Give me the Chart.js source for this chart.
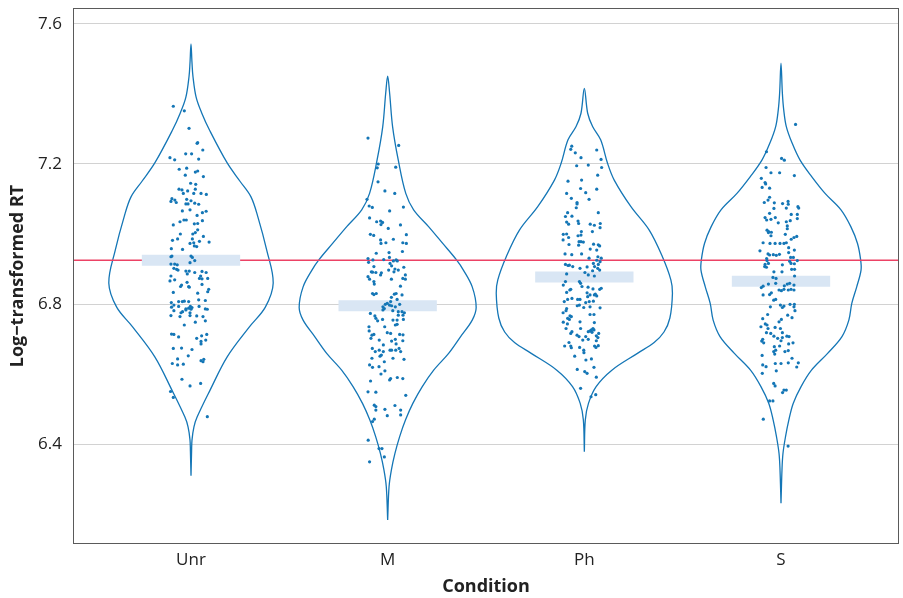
<!DOCTYPE html>
<html>
<head>
<meta charset="utf-8">
<script src="https://cdn.jsdelivr.net/npm/chart.js@4.4.0/dist/chart.umd.min.js"></script>
<style>
html, body { margin: 0; padding: 0; background: #fff; }
</style>
</head>
<body>
<canvas id="violinChart" width="903" height="598"></canvas>
<script>
const categories = ["Unr", "M", "Ph", "S"];
const yTicks = [6.4, 6.8, 7.2, 7.6];
const referenceLine = 6.925;
const means = [6.925, 6.795, 6.877, 6.865];

// violin outlines: [logRT, half width in category units]
const violinUnr = [[6.309,0],[6.380,0.003],[6.411,0.005],[6.449,0.015],[6.477,0.031],[6.554,0.097],[6.649,0.184],[6.734,0.296],[6.791,0.378],[6.860,0.418],[6.954,0.385],[7.049,0.340],[7.106,0.305],[7.150,0.25],[7.203,0.184],[7.297,0.094],[7.345,0.055],[7.391,0.026],[7.450,0.010],[7.490,0.005],[7.543,0]];
const violinM = [[6.183,0],[6.278,0.007],[6.326,0.019],[6.373,0.037],[6.421,0.061],[6.469,0.091],[6.516,0.128],[6.564,0.176],[6.611,0.234],[6.659,0.310],[6.707,0.371],[6.754,0.430],[6.790,0.450],[6.849,0.430],[6.897,0.385],[6.926,0.350],[6.973,0.280],[7.021,0.208],[7.069,0.132],[7.116,0.092],[7.211,0.054],[7.307,0.025],[7.402,0.010],[7.451,0]];
const violinPh = [[6.378,0],[6.469,0.005],[6.516,0.021],[6.564,0.060],[6.611,0.140],[6.659,0.270],[6.690,0.355],[6.720,0.405],[6.760,0.435],[6.831,0.448],[6.869,0.440],[6.935,0.397],[7.011,0.330],[7.078,0.237],[7.154,0.152],[7.202,0.118],[7.269,0.083],[7.307,0.042],[7.345,0.017],[7.416,0]];
const violinS = [[6.231,0],[6.326,0.005],[6.373,0.010],[6.421,0.023],[6.469,0.040],[6.516,0.062],[6.564,0.102],[6.611,0.155],[6.659,0.237],[6.707,0.310],[6.754,0.345],[6.802,0.360],[6.849,0.385],[6.897,0.407],[6.926,0.405],[6.973,0.389],[7.021,0.355],[7.069,0.305],[7.116,0.224],[7.164,0.156],[7.211,0.097],[7.259,0.057],[7.307,0.027],[7.354,0.014],[7.402,0.007],[7.488,0]];

// jittered observations: [jitter offset, logRT]
const dotsUnr = [[-0.090,7.365],[-0.034,7.352],[-0.010,7.302],[0.034,7.261],[0.031,7.259],[0.060,7.240],[-0.027,7.229],[0.003,7.229],[-0.107,7.218],[-0.083,7.212],[0.039,7.214],[-0.060,7.185],[-0.022,7.188],[-0.029,7.168],[0.022,7.177],[0.034,7.180],[0.063,7.164],[-0.002,7.145],[0.024,7.142],[-0.061,7.128],[-0.046,7.126],[-0.017,7.123],[0.022,7.128],[-0.039,7.116],[0.014,7.116],[0.051,7.116],[0.078,7.113],[-0.097,7.101],[-0.102,7.093],[-0.082,7.097],[-0.075,7.090],[-0.022,7.099],[0.000,7.095],[0.019,7.088],[0.039,7.085],[-0.026,7.086],[-0.015,7.086],[-0.044,7.066],[-0.005,7.069],[0.031,7.053],[0.058,7.061],[0.077,7.065],[-0.056,7.035],[-0.036,7.040],[-0.024,7.040],[0.017,7.029],[0.034,7.030],[0.058,7.038],[-0.090,7.026],[-0.054,7.000],[0.009,7.000],[0.022,7.004],[0.034,7.012],[0.063,6.993],[-0.068,6.986],[-0.094,6.982],[0.007,6.986],[0.092,6.977],[0.043,6.979],[-0.005,6.973],[0.014,6.975],[0.017,6.966],[0.029,6.964],[-0.100,6.958],[-0.043,6.956],
  [-0.102,6.935],[-0.097,6.937],[0.000,6.937],[0.007,6.933],[0.019,6.924],[-0.005,6.918],[-0.102,6.914],[-0.083,6.914],[-0.070,6.912],[-0.087,6.902],[-0.073,6.899],[-0.066,6.897],[-0.026,6.894],[-0.009,6.894],[-0.019,6.886],[0.019,6.890],[0.056,6.893],[0.077,6.890],[0.049,6.880],[-0.102,6.880],[0.043,6.873],[0.056,6.872],[0.085,6.873],[-0.107,6.866],[-0.083,6.869],[-0.020,6.862],[-0.048,6.854],[-0.053,6.850],[-0.012,6.850],[-0.009,6.848],[0.056,6.856],[0.090,6.842],[0.085,6.835],[-0.090,6.833],[0.034,6.831],[-0.034,6.808],[-0.063,6.807],[-0.100,6.804],[-0.012,6.807],[-0.044,6.807],[0.039,6.812],[0.073,6.810],[-0.087,6.797],[-0.099,6.791],[-0.063,6.793],[-0.026,6.786],[-0.012,6.788],[-0.003,6.793],[0.000,6.785],[0.005,6.790],[-0.087,6.781],[-0.026,6.783],[0.041,6.793],[0.073,6.786],[0.083,6.785],[-0.051,6.775],[-0.043,6.778],[-0.005,6.775],[-0.102,6.767],[-0.056,6.764],[-0.005,6.767],[0.029,6.766],[0.061,6.764],[0.022,6.748],[0.073,6.752],[-0.034,6.740],[-0.099,6.714],[-0.087,6.713],[-0.063,6.706],[0.054,6.709],[0.080,6.713],[0.075,6.697],[0.029,6.702],[0.051,6.693],[0.051,6.686],[-0.090,6.673],[-0.048,6.674],[0.005,6.670],[-0.014,6.652],[-0.068,6.643],[-0.095,6.630],[-0.068,6.626],[-0.039,6.628],[0.051,6.638],[0.065,6.642],[0.061,6.635],[-0.046,6.585],[-0.005,6.566],[0.049,6.573],[-0.104,6.550],[-0.090,6.533],[0.083,6.478]];
const dotsM = [[-0.100,7.274],[0.056,7.253],[-0.048,7.200],[-0.053,7.189],[0.041,7.191],[-0.049,7.149],[-0.014,7.123],[0.036,7.116],[-0.105,7.099],[-0.094,7.080],[-0.078,7.076],[0.080,7.077],[0.010,7.066],[-0.092,7.046],[-0.056,7.035],[-0.036,7.037],[-0.026,7.033],[0.065,7.026],[-0.034,7.027],[0.003,7.016],[-0.088,6.999],[-0.071,6.996],[0.095,6.998],[-0.036,6.983],[-0.034,6.973],[-0.009,6.975],[0.029,6.985],[0.077,6.975],[0.095,6.973],[-0.058,6.945],[0.007,6.947],[0.075,6.950],[-0.100,6.930],[-0.075,6.926],[-0.097,6.919],[0.009,6.933],[0.043,6.926],[0.049,6.923],[0.012,6.916],[0.020,6.909],[0.029,6.923],[-0.070,6.907],[-0.020,6.927],[0.005,6.897],[0.037,6.900],[0.054,6.897],[0.032,6.892],[-0.083,6.892],[-0.077,6.891],[-0.060,6.890],[-0.032,6.889],[-0.036,6.883],[0.082,6.905],[0.090,6.883],[-0.100,6.878],[-0.092,6.871],[0.019,6.871],[0.077,6.873],[0.090,6.871],
  [-0.070,6.864],[-0.068,6.857],[0.065,6.851],[-0.077,6.830],[-0.058,6.830],[-0.070,6.827],[0.019,6.819],[0.034,6.828],[0.043,6.830],[0.073,6.826],[0.015,6.807],[0.048,6.813],[-0.012,6.799],[-0.002,6.802],[0.009,6.797],[-0.024,6.792],[-0.017,6.787],[0.020,6.795],[0.039,6.792],[0.061,6.799],[0.026,6.781],[-0.024,6.783],[0.054,6.778],[0.073,6.778],[0.085,6.775],[-0.088,6.773],[-0.065,6.766],[-0.060,6.759],[-0.051,6.752],[-0.026,6.756],[0.027,6.754],[0.048,6.754],[0.054,6.768],[0.078,6.768],[0.080,6.756],[0.039,6.740],[0.048,6.742],[-0.015,6.735],[-0.095,6.735],[-0.094,6.723],[-0.080,6.711],[-0.070,6.713],[-0.085,6.702],[-0.002,6.718],[0.015,6.716],[0.061,6.713],[0.078,6.712],[-0.043,6.697],[0.020,6.694],[0.039,6.699],[0.043,6.686],[0.077,6.695],[-0.022,6.683],[-0.078,6.673],[-0.063,6.664],[-0.043,6.668],[-0.039,6.651],[-0.032,6.654],[-0.022,6.664],[0.012,6.668],[0.020,6.668],[0.041,6.668],[0.058,6.673],[0.066,6.664],[-0.080,6.645],[-0.017,6.635],[0.027,6.645],[0.083,6.642],[-0.092,6.626],[-0.077,6.619],[-0.044,6.621],[-0.014,6.609],[-0.034,6.600],[0.010,6.583],[0.015,6.587],[0.049,6.590],[0.077,6.587],[-0.087,6.580],[-0.100,6.549],[-0.060,6.548],[0.092,6.539],[-0.068,6.511],[-0.060,6.507],[-0.060,6.497],[-0.014,6.499],[0.037,6.510],[0.066,6.497],[-0.002,6.481],[0.066,6.483],[-0.068,6.471],[-0.077,6.464],[-0.099,6.411],[-0.044,6.387],[-0.029,6.387],[-0.017,6.363],[-0.092,6.349]];
const dotsPh = [[-0.064,7.251],[-0.069,7.242],[0.063,7.240],[-0.046,7.232],[-0.017,7.218],[0.085,7.213],[-0.039,7.195],[0.020,7.197],[0.088,7.190],[0.068,7.168],[-0.083,7.151],[-0.014,7.154],[-0.019,7.130],[0.063,7.128],[0.007,7.118],[-0.090,7.116],[-0.066,7.102],[0.024,7.099],[-0.037,7.090],[-0.037,7.086],[-0.041,7.075],[-0.085,7.061],[0.071,7.061],[-0.096,7.050],[-0.063,7.051],[-0.032,7.037],[-0.090,7.034],[-0.029,7.030],[-0.080,7.028],[0.030,7.028],[0.051,7.025],[0.081,7.030],[0.080,7.018],[-0.015,7.007],[0.041,7.007],[-0.107,6.999],[-0.090,7.000],[-0.032,6.995],[-0.017,6.997],[-0.080,6.990],[-0.108,6.983],[-0.027,6.978],[-0.017,6.978],[-0.005,6.977],[-0.029,6.968],[-0.078,6.970],[0.047,6.971],[0.071,6.969],[0.078,6.966],[0.030,6.957],[0.063,6.954],[-0.098,6.943],[-0.064,6.941],[-0.014,6.943],[0.024,6.931],[0.069,6.935],[0.086,6.931],[0.063,6.925],[0.080,6.921],[-0.096,6.913],[-0.083,6.910],[-0.076,6.911],[-0.059,6.907],[-0.022,6.902],[0.014,6.906],[0.046,6.916],[0.052,6.907],[0.071,6.913],[0.068,6.902],[0.078,6.897],[0.042,6.895],[-0.090,6.886],[0.003,6.890],[0.020,6.883],[0.051,6.880],
  [-0.107,6.854],[-0.096,6.864],[-0.025,6.864],[-0.019,6.859],[-0.012,6.850],[0.019,6.848],[0.044,6.843],[0.078,6.842],[0.086,6.845],[-0.069,6.842],[-0.074,6.840],[-0.090,6.833],[0.014,6.832],[0.017,6.821],[0.029,6.826],[0.051,6.826],[0.063,6.823],[0.056,6.828],[-0.063,6.816],[-0.085,6.813],[-0.102,6.807],[-0.034,6.813],[-0.022,6.813],[0.007,6.804],[0.025,6.807],[0.046,6.808],[-0.036,6.795],[-0.025,6.797],[-0.003,6.790],[-0.090,6.787],[-0.093,6.781],[0.029,6.792],[0.080,6.789],[-0.108,6.775],[0.029,6.770],[0.049,6.770],[-0.073,6.766],[-0.066,6.764],[-0.085,6.759],[-0.076,6.756],[-0.022,6.749],[-0.107,6.748],[0.051,6.747],[-0.086,6.743],[-0.019,6.730],[-0.093,6.730],[0.044,6.730],[0.036,6.726],[0.049,6.726],[-0.069,6.716],[-0.063,6.721],[-0.037,6.711],[-0.027,6.707],[0.020,6.721],[0.029,6.723],[0.039,6.719],[0.073,6.716],[0.007,6.707],[0.020,6.699],[-0.008,6.697],[0.061,6.709],[0.069,6.704],[0.061,6.695],[-0.078,6.690],[-0.069,6.680],[-0.066,6.675],[-0.100,6.680],[-0.024,6.676],[-0.003,6.668],[-0.002,6.661],[0.052,6.680],[0.059,6.676],[0.071,6.681],[-0.049,6.651],[0.008,6.640],[0.036,6.643],[-0.036,6.613],[0.049,6.619],[0.002,6.607],[0.014,6.602],[0.061,6.591],[-0.019,6.559],[0.034,6.535],[0.058,6.541]];
const dotsS = [[0.074,7.313],[-0.074,7.235],[0.003,7.216],[0.017,7.211],[-0.076,7.190],[-0.051,7.175],[-0.007,7.175],[0.068,7.167],[-0.100,7.159],[-0.081,7.147],[-0.078,7.143],[-0.096,7.133],[-0.058,7.131],[-0.058,7.105],[-0.066,7.097],[-0.085,7.090],[-0.034,7.089],[0.008,7.087],[0.036,7.093],[0.037,7.085],[0.086,7.078],[0.090,7.074],[-0.036,7.073],[0.027,7.074],[0.052,7.056],[0.083,7.056],[-0.058,7.059],[-0.081,7.047],[-0.073,7.040],[-0.051,7.042],[-0.029,7.047],[-0.014,7.032],[0.027,7.035],[0.047,7.038],[0.083,7.044],[0.032,7.023],[0.032,7.015],[-0.071,7.011],[-0.063,7.007],[-0.049,7.005],[-0.064,7.004],[-0.051,6.995],[0.022,6.999],[0.066,6.990],[0.080,6.993],[0.052,6.985],[-0.091,6.975],[-0.056,6.973],[-0.030,6.973],[-0.005,6.973],[0.015,6.973],[0.027,6.975],[0.039,6.961],[-0.107,6.952],[-0.066,6.943],[-0.058,6.940],[-0.039,6.941],[-0.024,6.939],[-0.008,6.942],[0.039,6.947],[0.068,6.954],[-0.073,6.930],[-0.071,6.924],[0.049,6.933],[0.063,6.933],[0.083,6.924],[-0.081,6.913],[-0.083,6.907],[-0.074,6.905],[-0.064,6.916],[0.007,6.912],[0.044,6.922],[0.051,6.916],[0.068,6.915],[-0.036,6.892],[0.005,6.892],[0.054,6.899],[0.069,6.899],[-0.041,6.876],[-0.025,6.873],[0.069,6.880],
  [-0.100,6.847],[-0.091,6.851],[-0.064,6.857],[-0.027,6.859],[0.017,6.852],[0.032,6.857],[0.044,6.859],[0.066,6.854],[-0.091,6.826],[-0.058,6.827],[-0.049,6.832],[-0.010,6.840],[0.002,6.838],[0.015,6.842],[0.037,6.840],[0.051,6.842],[0.066,6.840],[-0.027,6.813],[-0.037,6.811],[-0.054,6.792],[-0.003,6.797],[0.007,6.790],[0.015,6.794],[0.046,6.799],[0.068,6.799],[0.066,6.792],[0.071,6.781],[-0.068,6.770],[0.034,6.768],[0.056,6.761],[-0.093,6.758],[-0.010,6.749],[0.002,6.756],[-0.080,6.743],[-0.071,6.740],[-0.102,6.735],[-0.066,6.730],[-0.030,6.733],[-0.003,6.730],[-0.074,6.718],[-0.052,6.716],[-0.036,6.708],[0.007,6.718],[-0.017,6.702],[0.007,6.704],[0.030,6.708],[0.041,6.707],[-0.093,6.699],[-0.098,6.694],[-0.088,6.689],[0.000,6.695],[0.061,6.689],[0.039,6.686],[-0.034,6.678],[-0.007,6.680],[-0.027,6.668],[0.020,6.664],[-0.037,6.664],[-0.032,6.657],[0.037,6.667],[-0.096,6.653],[0.056,6.645],[-0.029,6.630],[0.000,6.630],[0.037,6.632],[0.088,6.632],[-0.093,6.626],[-0.076,6.621],[0.080,6.620],[-0.024,6.609],[-0.095,6.602],[-0.037,6.573],[-0.030,6.566],[0.015,6.554],[0.027,6.554],[0.008,6.547],[-0.058,6.523],[-0.041,6.523],[-0.090,6.471],[0.036,6.394]];

const groupDots = [dotsUnr, dotsM, dotsPh, dotsS];
const groupViolins = [violinUnr, violinM, violinPh, violinS];

const blue = "#1476b6";
const fontFamily = "'Open Sans', 'DejaVu Sans', sans-serif";

function violinOutline(v, pos) {
  const left = v.map(([y, w]) => ({ x: pos - w, y: y }));
  const right = v.slice().reverse().map(([y, w]) => ({ x: pos + w, y: y }));
  return left.concat(right.slice(1));
}

const datasets = [];

groupDots.forEach((dots, i) => {
  datasets.push({
    data: dots.map(([dx, y]) => ({ x: i + 1 + dx, y: y })),
    pointRadius: 1.6,
    pointBorderWidth: 0,
    pointBackgroundColor: blue,
    showLine: false
  });
});

means.forEach((m, i) => {
  datasets.push({
    data: [{ x: i + 1 - 0.25, y: m }, { x: i + 1 + 0.25, y: m }],
    showLine: true,
    borderColor: "#d9e6f4",
    borderWidth: 11,
    borderCapStyle: "butt",
    pointRadius: 0
  });
});

datasets.push({
  data: [{ x: 0.4, y: referenceLine }, { x: 4.6, y: referenceLine }],
  showLine: true,
  borderColor: "#ec4265",
  borderWidth: 1.3,
  pointRadius: 0
});

groupViolins.forEach((v, i) => {
  datasets.push({
    data: violinOutline(v, i + 1),
    showLine: true,
    borderColor: blue,
    borderWidth: 1.3,
    tension: 0.35,
    pointRadius: 0
  });
});

const framePlugin = {
  id: "frame",
  afterDraw(chart) {
    const { ctx, chartArea: a } = chart;
    ctx.save();
    ctx.strokeStyle = "#5a5a5a";
    ctx.lineWidth = 1;
    ctx.strokeRect(a.left + 0.5, a.top + 0.5, a.right - a.left - 1, a.bottom - a.top - 1);
    ctx.restore();
  }
};

new Chart(document.getElementById("violinChart"), {
  type: "scatter",
  data: { datasets: datasets },
  plugins: [framePlugin],
  options: {
    responsive: false,
    animation: false,
    devicePixelRatio: 1,
    layout: { padding: { top: 8, right: 3, left: 0, bottom: 0 } },
    plugins: { legend: { display: false }, tooltip: { enabled: false } },
    scales: {
      x: {
        type: "linear",
        min: 0.4,
        max: 4.6,
        afterBuildTicks: (s) => { s.ticks = categories.map((c, i) => ({ value: i + 1 })); },
        afterFit: (s) => { s.height = 54; s.paddingLeft = 0; s.paddingRight = 0; },
        ticks: {
          padding: 6,
          color: "#222",
          font: { family: fontFamily, size: 17 },
          callback: (v) => categories[v - 1]
        },
        grid: { display: false, drawTicks: false },
        border: { display: false },
        title: {
          display: true,
          text: "Condition",
          color: "#222",
          font: { family: fontFamily, size: 18, weight: "bold" },
          padding: { top: 0, bottom: 0 }
        }
      },
      y: {
        type: "linear",
        min: 6.1143,
        max: 7.6457,
        afterBuildTicks: (s) => { s.ticks = yTicks.map((t) => ({ value: t })); },
        afterFit: (s) => { s.width = 73; s.paddingTop = 0; s.paddingBottom = 0; },
        ticks: {
          padding: 11,
          color: "#222",
          font: { family: fontFamily, size: 17 },
          callback: (v) => v.toFixed(1)
        },
        grid: { color: "#d2d2d2", lineWidth: 1, drawTicks: false },
        border: { display: false },
        title: {
          display: true,
          text: "Log\u2212transformed RT",
          color: "#222",
          font: { family: fontFamily, size: 18, weight: "bold" },
          padding: { top: 7, bottom: 0 }
        }
      }
    }
  }
});
</script>
</body>
</html>
